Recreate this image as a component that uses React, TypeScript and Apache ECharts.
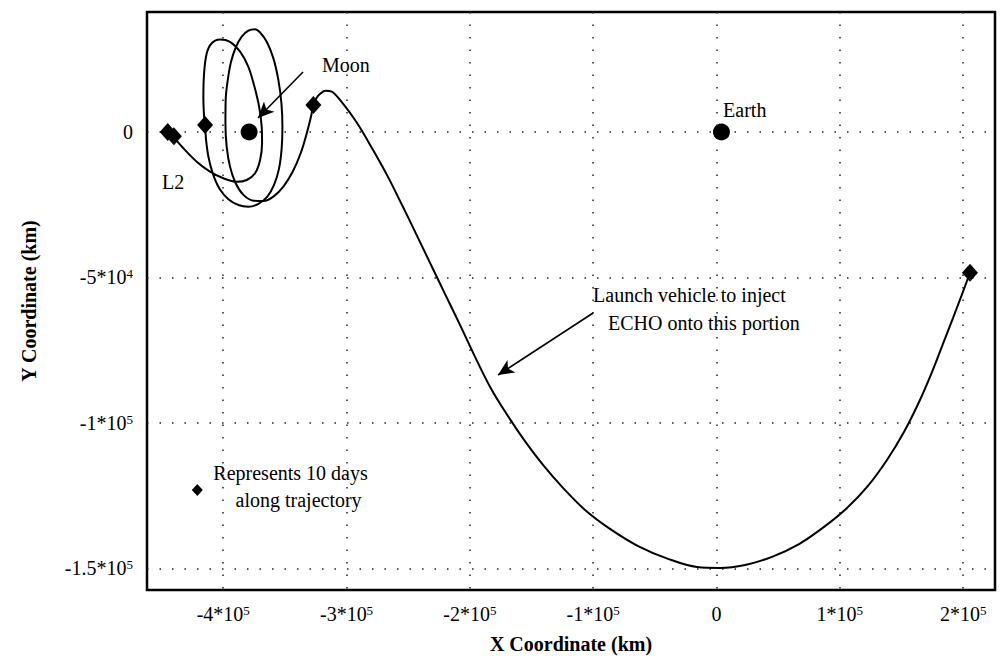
import React, { useEffect, useRef } from "react";
import * as echarts from "echarts";

const xTicks = [-400000, -300000, -200000, -100000, 0, 100000, 200000];
const xTickLabels = ["-4*10^5", "-3*10^5", "-2*10^5", "-1*10^5", "0", "1*10^5", "2*10^5"];
const yTicks = [-150000, -100000, -50000, 0];
const yTickLabels = ["-1.5*10^5", "-1*10^5", "-5*10^4", "0"];

// trajectory (km), from L2 back around the Moon and out to the launch point
const trajectory: [number, number][] = [
  [-441700, -1000], [-432300, -5600], [-421500, -10200], [-410700, -13600],
  [-399900, -15900], [-389000, -17100], [-380900, -16500], [-374200, -14200],
  [-370100, -9600], [-368500, -3900], [-368800, 1800], [-370900, 8700],
  [-374700, 15600], [-379600, 22400], [-386300, 27600], [-394500, 31000],
  [-402600, 31800], [-409300, 30500], [-413400, 27000], [-415500, 20200],
  [-416100, 12100], [-415500, 5300], [-414700, 2400],
  [-413900, -2700], [-412000, -8500], [-408500, -14200], [-403100, -19400],
  [-395800, -23100], [-387700, -25100], [-379600, -25700], [-371500, -24700],
  [-364200, -22200], [-358800, -18200], [-354700, -12500], [-352600, -5600],
  [-352000, 1800], [-352800, 9900], [-355300, 17900], [-359300, 25300],
  [-364700, 31000], [-370100, 34200], [-374200, 35300], [-379600, 34800],
  [-385000, 32800], [-389600, 29300], [-393600, 24200], [-396300, 17900],
  [-398000, 11000], [-398200, 3000], [-397200, -5000], [-394500, -11900],
  [-389900, -17600], [-383600, -21600], [-375500, -23600], [-367400, -23700],
  [-359300, -22200], [-351200, -18800], [-343600, -13600], [-337200, -7300],
  [-332300, -500], [-328800, 5300], [-326900, 9300],
  [-324200, 11800], [-320900, 13300], [-317400, 14200], [-312000, 13900],
  [-305300, 11000], [-291500, 3100], [-278500, -6200], [-266300, -15500],
  [-255000, -25100], [-243600, -35000], [-232300, -45000], [-220100, -55700],
  [-208000, -66300], [-195800, -77300], [-183600, -87600], [-170700, -96600],
  [-156100, -105800], [-140700, -114400], [-124500, -122300], [-106600, -129900],
  [-86400, -136400], [-63600, -142300], [-39300, -146700], [-15800, -149500],
  [2800, -149800], [23100, -148800], [45000, -146000], [66900, -141600],
  [87200, -135700], [105800, -129200], [122800, -121600], [138200, -112700],
  [152000, -103100], [164200, -92800], [174700, -82500], [183600, -72800],
  [191800, -63900], [199100, -55700], [205500, -48400],
];

const tenDayMarkers: [number, number][] = [
  [205500, -48400], [-326900, 9300], [-414700, 2400], [-445000, 0], [-440000, -1500],
];
const moon: [number, number] = [-379000, 0];
const earth: [number, number] = [4000, 0];
const legendMarker: [number, number] = [-421000, -123000];

const labelNames = ["Moon", "Earth", "L2", "Launch vehicle to inject", "ECHO onto this portion", "Represents 10 days", "along trajectory"];
const labelPositions: [number, number][] = [
  [-320000, 23000], [5300, 7600], [-449600, -17200], [-100100, -56000], [-88000, -65600],
  [-408000, -117200], [-390000, -126400],
];

const arrowFrom: [number, number][] = [[-335300, 20600], [-100100, -62200]];
const arrowTo: [number, number][] = [[-371800, 4800], [-177200, -83500]];

const FONT = "Liberation Serif";

function supFormat(s: string) {
  const i = s.indexOf("^");
  if (i < 0) return s;
  return s.slice(0, i) + "{sup|" + s.slice(i + 1) + "}";
}

export default function App() {
  const ref = useRef<HTMLDivElement>(null);
  useEffect(() => {
    if (!ref.current) return;
    const chart = echarts.init(ref.current, undefined, { renderer: "svg" });
    const axisLabelBase = {
      color: "#000",
      fontFamily: FONT,
      fontSize: 20,
      rich: { sup: { fontSize: 13, verticalAlign: "top", fontFamily: FONT, color: "#000" } },
    };
    const splitStyle = { show: true, lineStyle: { color: "#222", width: 1.5, type: [1.5, 11] } };
    chart.setOption({
      animation: false,
      backgroundColor: "#fff",
      grid: { left: 147, right: 6, top: 12, bottom: 74, show: true, borderColor: "#000", borderWidth: 2.5, backgroundColor: "transparent" },
      xAxis: {
        type: "value",
        min: -461800,
        max: 225800,
        axisLine: { show: false },
        axisTick: { show: false, customValues: xTicks },
        splitLine: splitStyle,
        axisLabel: {
          ...axisLabelBase,
          customValues: xTicks,
          margin: 14,
          formatter: (v: number) => {
            const i = xTicks.indexOf(v);
            return i >= 0 ? supFormat(xTickLabels[i]) : "";
          },
        },
        name: "X Coordinate (km)",
        nameLocation: "middle",
        nameGap: 44,
        nameTextStyle: { fontFamily: FONT, fontSize: 20, fontWeight: "bold", color: "#000" },
      },
      yAxis: {
        type: "value",
        min: -157400,
        max: 41240,
        axisLine: { show: false },
        axisTick: { show: false, customValues: yTicks },
        splitLine: splitStyle,
        axisLabel: {
          ...axisLabelBase,
          customValues: yTicks,
          margin: 14,
          formatter: (v: number) => {
            const i = yTicks.indexOf(v);
            return i >= 0 ? supFormat(yTickLabels[i]) : "";
          },
        },
        name: "Y Coordinate (km)",
        nameLocation: "middle",
        nameGap: 108,
        nameRotate: 90,
        nameTextStyle: { fontFamily: FONT, fontSize: 20, fontWeight: "bold", color: "#000" },
      },
      series: [
        {
          type: "line",
          data: trajectory,
          smooth: 0.35,
          showSymbol: false,
          symbol: "none",
          lineStyle: { color: "#000", width: 2 },
          silent: true,
          z: 3,
        },
        {
          type: "scatter",
          data: tenDayMarkers,
          symbol: "diamond",
          symbolSize: [16, 18],
          itemStyle: { color: "#000", opacity: 1 },
          z: 4,
        },
        {
          type: "scatter",
          data: [legendMarker],
          symbol: "diamond",
          symbolSize: [11, 12],
          itemStyle: { color: "#000", opacity: 1 },
          z: 4,
        },
        {
          type: "scatter",
          data: [moon, earth],
          symbol: "circle",
          symbolSize: 17,
          itemStyle: { color: "#000", opacity: 1 },
          z: 4,
        },
        {
          type: "scatter",
          data: labelNames.map((n, i) => ({ name: n, value: labelPositions[i] })),
          symbolSize: 0.01,
          itemStyle: { color: "rgba(0,0,0,0)", opacity: 1 },
          label: {
            show: true,
            position: "right",
            distance: 0,
            formatter: "{b}",
            fontFamily: FONT,
            fontSize: 20,
            color: "#000",
            opacity: 1,
          },
          z: 5,
        },
        {
          type: "line",
          data: [],
          markLine: {
            silent: true,
            symbol: ["none", "arrow"],
            symbolSize: [11, 16],
            label: { show: false },
            lineStyle: { color: "#000", width: 1.6, type: "solid", opacity: 1 },
            data: arrowFrom.map((f, i) => [{ coord: f }, { coord: arrowTo[i] }]),
          },
        },
      ],
    });
    return () => chart.dispose();
  }, []);
  return (
    <div
      ref={ref}
      style={{ position: "fixed", left: 0, top: 0, width: 1001, height: 664, background: "#fff" }}
    />
  );
}
